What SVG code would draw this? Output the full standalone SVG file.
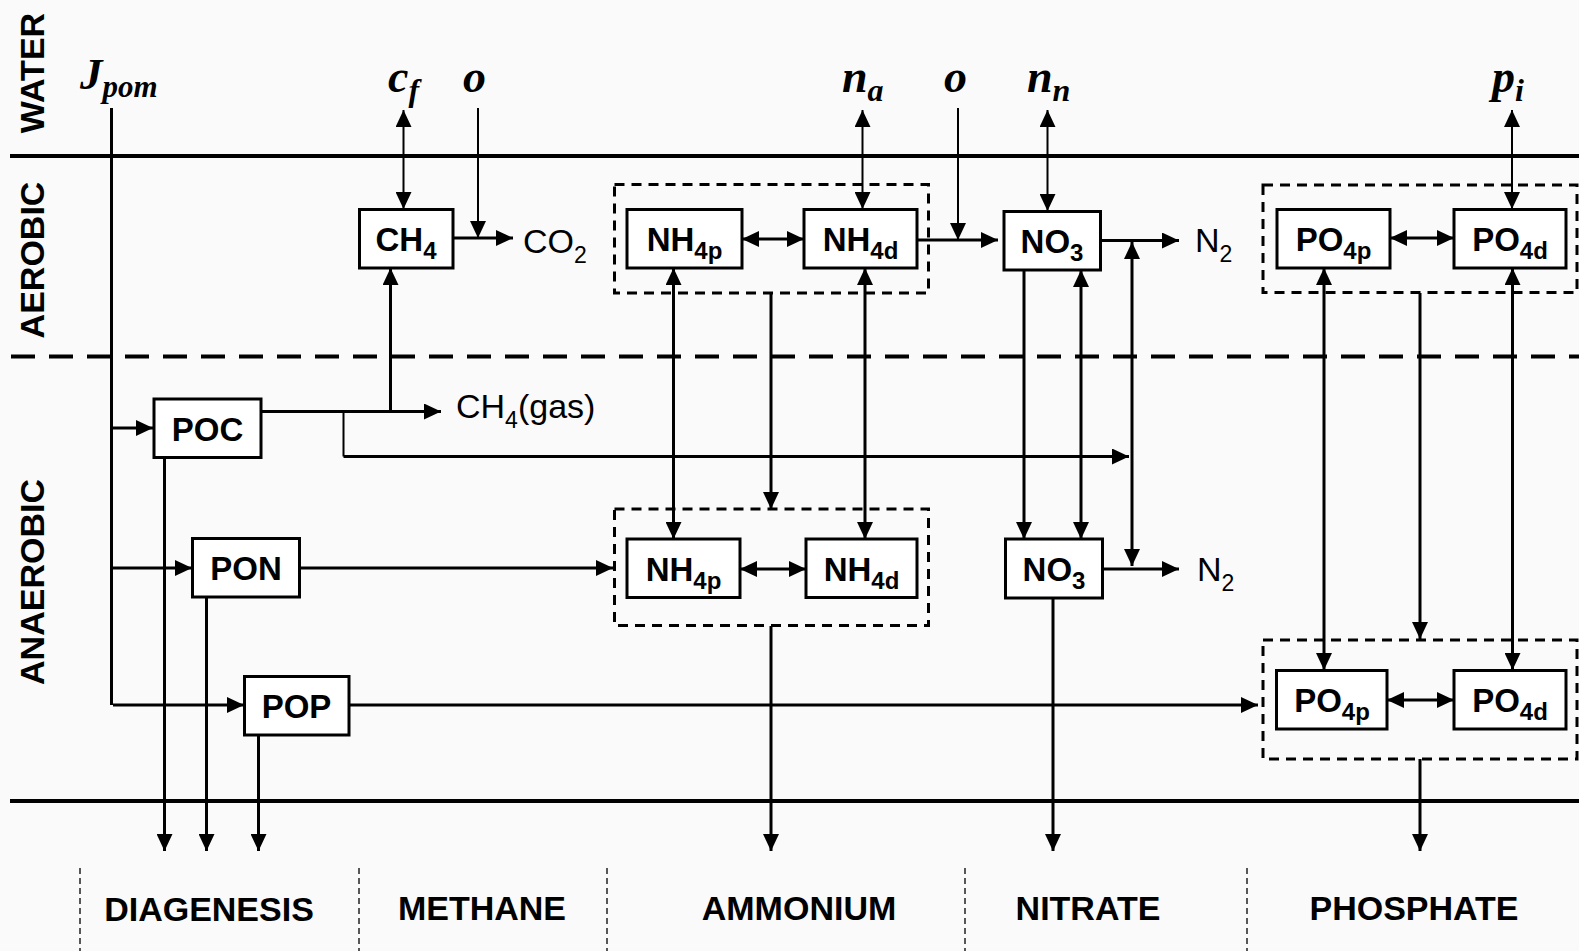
<svg xmlns="http://www.w3.org/2000/svg" width="1579" height="951" viewBox="0 0 1579 951">
<defs>
<style>
.bg{fill:#fafafa}
.frame{stroke:#000;stroke-width:4;fill:none}
.zone{stroke:#000;stroke-width:4;fill:none;stroke-dasharray:24 14}
.div{stroke:#222;stroke-width:1.5;fill:none;stroke-dasharray:6 4}
.box{fill:#fff;stroke:#000;stroke-width:3}
.grp{fill:none;stroke:#000;stroke-width:3;stroke-dasharray:10 7}
.c{stroke:#000;stroke-width:3;fill:none}
.t{stroke:#000;stroke-width:2;fill:none}
.arr{marker-end:url(#a)}
.bi{marker-start:url(#a);marker-end:url(#a)}
.lbl{font-family:"Liberation Sans",Arial,sans-serif;font-weight:bold;font-size:33px;fill:#000}
.sub{font-size:24px}
.rsub{font-size:23px}
.reg{font-family:"Liberation Sans",Arial,sans-serif;font-size:34px;fill:#000}
.zl{font-family:"Liberation Sans",Arial,sans-serif;font-weight:bold;font-size:34px;fill:#000}
.math{font-family:"Liberation Serif","Times New Roman",serif;font-weight:bold;font-style:italic;font-size:46px;fill:#000}
.msub{font-size:32px}
</style>
<marker id="a" viewBox="0 0 17 16" refX="17" refY="8" markerWidth="17" markerHeight="16" markerUnits="userSpaceOnUse" orient="auto-start-reverse"><path d="M0,0L17,8L0,16z" fill="#000"/></marker>
</defs>
<rect class="bg" x="0" y="0" width="1579" height="951"/>

<g id="zones">
<line class="frame" x1="10" y1="156" x2="1579" y2="156"/>
<line class="zone" x1="11" y1="356.5" x2="1579" y2="356.5"/>
<line class="frame" x1="10" y1="801" x2="1579" y2="801"/>
<text class="zl" text-anchor="middle" transform="translate(44,73) rotate(-90)">WATER</text>
<text class="zl" text-anchor="middle" transform="translate(44,260) rotate(-90)">AEROBIC</text>
<text class="zl" text-anchor="middle" transform="translate(44,582) rotate(-90)">ANAEROBIC</text>
</g>

<g id="groups">
<rect class="grp" x="614.5" y="184.5" width="314" height="108.5"/>
<rect class="grp" x="614.5" y="509" width="314" height="116.5"/>
<rect class="grp" x="1263" y="185" width="314" height="107.5"/>
<rect class="grp" x="1263" y="640" width="314" height="119"/>
</g>

<g id="connectors">
<path class="c" d="M111.5,108 V705"/>
<path class="c arr" d="M111.5,428 H153"/>
<path class="c arr" d="M111.5,568 H192"/>
<path class="c arr" d="M113,705 H244"/>
<path class="c arr" d="M164.5,457 V851"/>
<path class="c arr" d="M206.5,597 V851"/>
<path class="c arr" d="M258.5,735 V851"/>
<path class="c arr" d="M261,411.5 H441"/>
<path class="c arr" d="M390.5,411.5 V268"/>
<path class="t" d="M343.5,411.5 V456.5"/>
<path class="c arr" d="M343.5,456.5 H1129"/>
<path class="c arr" d="M453,238 H513"/>
<path class="t arr" d="M478,108 V238"/>
<path class="t bi" d="M403.5,110 V209"/>
<path class="c bi" d="M742,239 H804"/>
<path class="t bi" d="M862.5,110 V209"/>
<path class="c arr" d="M917,240 H998"/>
<path class="t arr" d="M958,108 V240"/>
<path class="t bi" d="M1047.5,110 V211"/>
<path class="c arr" d="M1100,240.5 H1179"/>
<path class="c bi" d="M673.5,268 V539"/>
<path class="c arr" d="M771,293 V509"/>
<path class="c bi" d="M865,268 V539"/>
<path class="c arr" d="M1024,270 V539"/>
<path class="c bi" d="M1081,270 V539"/>
<path class="c bi" d="M1132,242 V566"/>
<path class="c arr" d="M1102,569 H1179"/>
<path class="c arr" d="M300,568 H613"/>
<path class="c bi" d="M740,569 H806"/>
<path class="c arr" d="M771,626 V851"/>
<path class="c arr" d="M1053,598 V851"/>
<path class="c arr" d="M349,705 H1258"/>
<path class="c bi" d="M1390,238 H1454"/>
<path class="t bi" d="M1512,110 V209"/>
<path class="c bi" d="M1324,268 V670"/>
<path class="c arr" d="M1420,293 V639"/>
<path class="c bi" d="M1512.5,268 V670"/>
<path class="c bi" d="M1387,700 H1454"/>
<path class="c arr" d="M1420,759 V851"/>
</g>

<g id="symbols">
<text class="math" x="80" y="89" style="font-size:45px">J<tspan class="msub" style="font-size:31px" dy="8">pom</tspan></text>
<text class="math" x="388" y="92">c<tspan class="msub" dy="9">f</tspan></text>
<text class="math" x="463" y="92">o</text>
<text class="math" x="842" y="92">n<tspan class="msub" dy="9">a</tspan></text>
<text class="math" x="944" y="92">o</text>
<text class="math" x="1027" y="92">n<tspan class="msub" dy="9">n</tspan></text>
<text class="math" x="1492" y="92">p<tspan class="msub" dy="9">i</tspan></text>
</g>

<g id="CH4"><rect class="box" x="359.5" y="209.5" width="93.5" height="58.5"/><text class="lbl" x="406" y="251" text-anchor="middle">CH<tspan class="sub" dy="8">4</tspan></text></g>
<g id="NH4p_top"><rect class="box" x="627" y="209.5" width="115" height="58.5"/><text class="lbl" x="684.5" y="251" text-anchor="middle">NH<tspan class="sub" dy="8">4p</tspan></text></g>
<g id="NH4d_top"><rect class="box" x="804" y="209.5" width="113" height="58.5"/><text class="lbl" x="860.5" y="251" text-anchor="middle">NH<tspan class="sub" dy="8">4d</tspan></text></g>
<g id="NO3_top"><rect class="box" x="1004" y="211.5" width="96.5" height="58.5"/><text class="lbl" x="1052" y="253" text-anchor="middle">NO<tspan class="sub" dy="8">3</tspan></text></g>
<g id="PO4p_top"><rect class="box" x="1277" y="209.5" width="113" height="58.5"/><text class="lbl" x="1333.5" y="251" text-anchor="middle">PO<tspan class="sub" dy="8">4p</tspan></text></g>
<g id="PO4d_top"><rect class="box" x="1454" y="209.5" width="112" height="58.5"/><text class="lbl" x="1510" y="251" text-anchor="middle">PO<tspan class="sub" dy="8">4d</tspan></text></g>
<g id="POC"><rect class="box" x="154" y="399" width="107" height="58.5"/><text class="lbl" x="207.5" y="441" text-anchor="middle">POC</text></g>
<g id="PON"><rect class="box" x="192.5" y="538.5" width="107" height="58.5"/><text class="lbl" x="246" y="580" text-anchor="middle">PON</text></g>
<g id="POP"><rect class="box" x="244.5" y="676.5" width="104.5" height="58.5"/><text class="lbl" x="296.5" y="718" text-anchor="middle">POP</text></g>
<g id="NH4p_bot"><rect class="box" x="627" y="539" width="113" height="58.5"/><text class="lbl" x="683.5" y="580.5" text-anchor="middle">NH<tspan class="sub" dy="8">4p</tspan></text></g>
<g id="NH4d_bot"><rect class="box" x="806" y="539" width="111" height="58.5"/><text class="lbl" x="861.5" y="580.5" text-anchor="middle">NH<tspan class="sub" dy="8">4d</tspan></text></g>
<g id="NO3_bot"><rect class="box" x="1005.5" y="539" width="97" height="59"/><text class="lbl" x="1054" y="581" text-anchor="middle">NO<tspan class="sub" dy="8">3</tspan></text></g>
<g id="PO4p_bot"><rect class="box" x="1276.5" y="670.5" width="110.5" height="58.5"/><text class="lbl" x="1332" y="712" text-anchor="middle">PO<tspan class="sub" dy="8">4p</tspan></text></g>
<g id="PO4d_bot"><rect class="box" x="1454" y="670.5" width="112" height="58.5"/><text class="lbl" x="1510" y="712" text-anchor="middle">PO<tspan class="sub" dy="8">4d</tspan></text></g>

<g id="products">
<text class="reg" x="523" y="253">CO<tspan class="rsub" dy="10">2</tspan></text>
<text class="reg" x="1195" y="252">N<tspan class="rsub" dy="10">2</tspan></text>
<text class="reg" x="1197" y="581">N<tspan class="rsub" dy="10">2</tspan></text>
<text class="reg" x="456" y="418">CH<tspan class="rsub" dy="10">4</tspan><tspan dy="-10">(gas)</tspan></text>
</g>

<g id="categories">
<line class="div" x1="80" y1="868" x2="80" y2="951"/>
<line class="div" x1="359" y1="868" x2="359" y2="951"/>
<line class="div" x1="607" y1="868" x2="607" y2="951"/>
<line class="div" x1="965" y1="868" x2="965" y2="951"/>
<line class="div" x1="1247" y1="868" x2="1247" y2="951"/>
<text class="zl" x="209" y="921" text-anchor="middle">DIAGENESIS</text>
<text class="zl" x="482" y="920" text-anchor="middle">METHANE</text>
<text class="zl" x="799" y="920" text-anchor="middle">AMMONIUM</text>
<text class="zl" x="1088" y="920" text-anchor="middle">NITRATE</text>
<text class="zl" x="1414" y="920" text-anchor="middle">PHOSPHATE</text>
</g>
</svg>
